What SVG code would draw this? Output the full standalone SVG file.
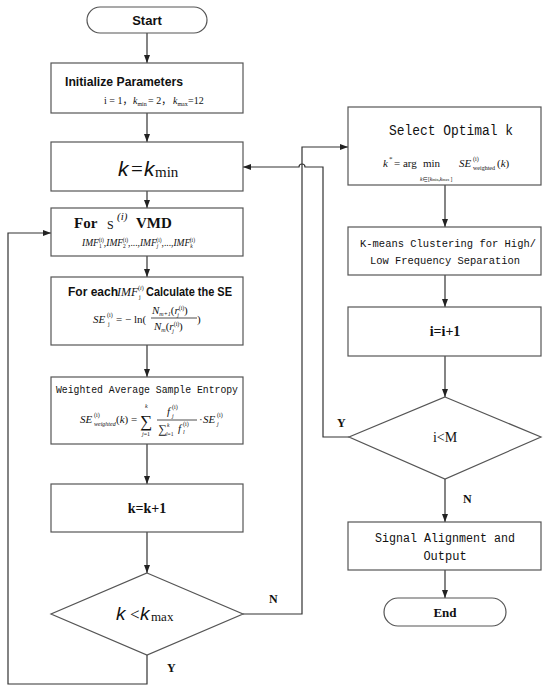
<svg xmlns="http://www.w3.org/2000/svg" width="550" height="691" viewBox="0 0 550 691">
<style>
.box{fill:#fff;stroke:#555;stroke-width:1.2}
.ln{fill:none;stroke:#333;stroke-width:1.2}
.sb{font-family:"Liberation Sans",Arial,sans-serif;font-weight:bold;fill:#111}
.rb{font-family:"Liberation Serif","Times New Roman",serif;font-weight:bold;fill:#111}
.r{font-family:"Liberation Serif","Times New Roman","Noto Sans CJK SC",serif;fill:#111}
.ri{font-family:"Liberation Serif","Times New Roman",serif;font-style:italic;fill:#111}
.mo{font-family:"Liberation Mono","Courier New",monospace;fill:#111}
.si{font-family:"Liberation Sans",Arial,sans-serif;font-style:italic;fill:#111}
</style>
<defs>
<marker id="ah" viewBox="0 0 8 8" refX="8" refY="4" markerWidth="8" markerHeight="8" markerUnits="userSpaceOnUse" orient="auto">
<path d="M0,1 L8,4 L0,7 Z" fill="#222"/>
</marker>
</defs>

<g id="connectors">
<path class="ln" d="M147 33 V63" marker-end="url(#ah)"/>
<path class="ln" d="M147 113 V142" marker-end="url(#ah)"/>
<path class="ln" d="M147 191 V208" marker-end="url(#ah)"/>
<path class="ln" d="M147 256 V277" marker-end="url(#ah)"/>
<path class="ln" d="M147 345 V377" marker-end="url(#ah)"/>
<path class="ln" d="M147 444 V484" marker-end="url(#ah)"/>
<path class="ln" d="M147 532 V573" marker-end="url(#ah)"/>
<path class="ln" d="M147 655 V684 H8 V233 H51" marker-end="url(#ah)"/>
<path class="ln" d="M243 614 H302 V147 H348" marker-end="url(#ah)"/>
<path class="ln" d="M445 185 V227" marker-end="url(#ah)"/>
<path class="ln" d="M445 275 V307" marker-end="url(#ah)"/>
<path class="ln" d="M445 356 V397" marker-end="url(#ah)"/>
<path class="ln" d="M349 437 H323 V167 H305 A3 3 0 0 0 299 167 H243" marker-end="url(#ah)"/>
<path class="ln" d="M445 479 V522" marker-end="url(#ah)"/>
<path class="ln" d="M445 570 V598" marker-end="url(#ah)"/>
<text class="rb" x="269" y="603" font-size="12">N</text>
<text class="rb" x="167" y="672" font-size="12">Y</text>
<text class="rb" x="337" y="427" font-size="12">Y</text>
<text class="rb" x="463" y="503" font-size="12">N</text>
</g>

<g id="start">
<rect class="box" x="87" y="7" width="120" height="26" rx="13"/>
<text class="sb" x="147" y="25" font-size="13" text-anchor="middle">Start</text>
</g>

<g id="init">
<rect class="box" x="51" y="63" width="192" height="50"/>
<text class="sb" x="65" y="86" font-size="12.5" textLength="118" lengthAdjust="spacingAndGlyphs">Initialize Parameters</text>
<text class="r" x="104" y="104" font-size="10">i = 1，<tspan class="ri" x="133">k</tspan><tspan font-size="6" dy="2">min</tspan><tspan dy="-2" x="148">= 2，</tspan><tspan class="ri" x="173">k</tspan><tspan font-size="6" dy="2">max</tspan><tspan dy="-2" x="188">=12</tspan></text>
</g>

<g id="kmin">
<rect class="box" x="51" y="142" width="192" height="49"/>
<text class="si" x="118" y="176" font-size="21">k</text>
<text class="r" x="131" y="176" font-size="21">=</text>
<text class="si" x="144" y="176" font-size="21">k</text>
<text class="r" x="155" y="177" font-size="15">min</text>
</g>

<g id="vmd">
<rect class="box" x="51" y="208" width="192" height="48"/>
<text class="rb" x="74" y="228" font-size="15">For</text>
<text class="r" x="107" y="229" font-size="12">S</text>
<text class="ri" x="117" y="220" font-size="11">(<tspan>i</tspan>)</text>
<text class="rb" x="136" y="228" font-size="15">VMD</text>
<text class="ri" x="82" y="246" font-size="9.5">IMF<tspan font-size="5.5" dy="2" font-style="normal">1</tspan><tspan font-size="5.5" dx="-3" dy="-6" font-style="normal">(i)</tspan><tspan dy="4">,</tspan>IMF<tspan font-size="5.5" dy="2" font-style="normal">2</tspan><tspan font-size="5.5" dx="-3" dy="-6" font-style="normal">(i)</tspan><tspan dy="4" font-style="normal">,...,</tspan>IMF<tspan font-size="5.5" dy="2">j</tspan><tspan font-size="5.5" dx="-2" dy="-6" font-style="normal">(i)</tspan><tspan dy="4" font-style="normal">,...,</tspan>IMF<tspan font-size="5.5" dy="2">k</tspan><tspan font-size="5.5" dx="-3" dy="-6" font-style="normal">(i)</tspan></text>
</g>

<g id="se">
<rect class="box" x="51" y="277" width="192" height="68"/>
<text class="sb" x="68" y="296" font-size="12">For each</text>
<text class="ri" x="117" y="296" font-size="12">IMF</text>
<text class="r" x="138" y="290" font-size="6">(<tspan font-style="italic">i</tspan>)</text>
<text class="r" x="139" y="299" font-size="6">j</text>
<text class="sb" x="146" y="296" font-size="12" textLength="86" lengthAdjust="spacingAndGlyphs">Calculate the SE</text>
<text class="ri" x="93" y="323" font-size="11">SE</text>
<text class="r" x="107" y="317" font-size="6">(i)</text>
<text class="r" x="108" y="326" font-size="6">j</text>
<text class="r" x="116" y="323" font-size="11">= − ln(</text>
<text class="ri" x="152" y="314" font-size="11">N<tspan font-size="6" dy="2">m+1</tspan><tspan dy="-2" font-style="normal">(</tspan>r<tspan font-size="6" dy="-4" font-style="normal">(i)</tspan><tspan font-size="6" dx="-7" dy="7">j</tspan><tspan dy="-3" dx="5" font-style="normal">)</tspan></text>
<line x1="151" y1="318" x2="197" y2="318" stroke="#222" stroke-width="0.8"/>
<text class="ri" x="154" y="330" font-size="11">N<tspan font-size="6" dy="2">m</tspan><tspan dy="-2" font-style="normal">(</tspan>r<tspan font-size="6" dy="-4" font-style="normal">(i)</tspan><tspan font-size="6" dx="-7" dy="7">j</tspan><tspan dy="-3" dx="5" font-style="normal">)</tspan></text>
<text class="r" x="197" y="323" font-size="11">)</text>
</g>

<g id="weighted">
<rect class="box" x="51" y="377" width="192" height="67"/>
<text class="mo" x="56" y="393" font-size="11" textLength="182" lengthAdjust="spacingAndGlyphs">Weighted Average Sample Entropy</text>
<text class="ri" x="80" y="423" font-size="11">SE</text>
<text class="r" x="94" y="417" font-size="6">(i)</text>
<text class="ri" x="94" y="426" font-size="6">weighted</text>
<text class="r" x="116" y="423" font-size="11">(<tspan font-style="italic">k</tspan>) =</text>
<text class="r" x="140" y="427" font-size="17">∑</text>
<text class="ri" x="145" y="408" font-size="6">k</text>
<text class="r" x="142" y="436" font-size="6"><tspan font-style="italic">j</tspan>=1</text>
<text class="ri" x="167" y="415" font-size="11">f</text>
<text class="r" x="172" y="409" font-size="6">(i)</text>
<text class="ri" x="172" y="418" font-size="6">j</text>
<line x1="157" y1="420" x2="197" y2="420" stroke="#222" stroke-width="0.8"/>
<text class="r" x="158" y="433" font-size="12">∑</text>
<text class="r" x="166" y="436" font-size="5.5"><tspan font-style="italic">l</tspan>=1</text>
<text class="ri" x="167" y="427" font-size="5.5">k</text>
<text class="ri" x="178" y="432" font-size="11">f</text>
<text class="r" x="183" y="426" font-size="6">(i)</text>
<text class="ri" x="183" y="434" font-size="6">l</text>
<text class="r" x="199" y="423" font-size="11">·</text>
<text class="ri" x="203" y="423" font-size="11">SE</text>
<text class="r" x="217" y="417" font-size="6">(i)</text>
<text class="ri" x="217" y="426" font-size="6">j</text>
</g>

<g id="kinc">
<rect class="box" x="51" y="484" width="192" height="48"/>
<text class="rb" x="147" y="513" font-size="14" text-anchor="middle">k=k+1</text>
</g>

<g id="kcheck">
<polygon class="box" points="147,573 243,614 147,655 51,614"/>
<text class="si" x="116" y="620" font-size="19">k</text>
<text class="r" x="130" y="620" font-size="17">&lt;</text>
<text class="si" x="140" y="620" font-size="19">k</text>
<text class="r" x="151" y="621" font-size="13">max</text>
</g>

<g id="select">
<rect class="box" x="348" y="107" width="193" height="78"/>
<text class="mo" x="389" y="135" font-size="14" textLength="124" lengthAdjust="spacingAndGlyphs">Select Optimal k</text>
<text class="ri" x="383" y="167" font-size="11">k</text>
<text class="r" x="389" y="161" font-size="7">*</text>
<text class="r" x="394" y="167" font-size="11">= arg</text>
<text class="r" x="423" y="167" font-size="11">min</text>
<text class="r" x="420" y="181" font-size="5.5"><tspan font-style="italic">k</tspan>∈[<tspan font-style="italic">k</tspan><tspan font-size="4">min</tspan>,<tspan font-style="italic">k</tspan><tspan font-size="4">max</tspan> ]</text>
<text class="ri" x="459" y="167" font-size="11">SE</text>
<text class="r" x="473" y="161" font-size="6">(i)</text>
<text class="r" x="473" y="170" font-size="6">weighted</text>
<text class="r" x="497" y="167" font-size="11">(<tspan font-style="italic">k</tspan>)</text>
</g>

<g id="kmeans">
<rect class="box" x="348" y="227" width="193" height="48"/>
<text class="mo" x="360" y="247" font-size="10.5" textLength="176" lengthAdjust="spacingAndGlyphs">K-means Clustering for High/</text>
<text class="mo" x="370" y="264" font-size="10.5" textLength="150" lengthAdjust="spacingAndGlyphs">Low Frequency Separation</text>
</g>

<g id="iinc">
<rect class="box" x="348" y="307" width="193" height="49"/>
<text class="rb" x="445" y="336" font-size="14" text-anchor="middle">i=i+1</text>
</g>

<g id="icheck">
<polygon class="box" points="445,397 541,437 445,479 349,437"/>
<text class="r" x="445" y="442" font-size="14" text-anchor="middle">i&lt;M</text>
</g>

<g id="signal">
<rect class="box" x="348" y="522" width="193" height="48"/>
<text class="mo" x="375" y="542" font-size="12" textLength="140" lengthAdjust="spacingAndGlyphs">Signal Alignment and</text>
<text class="mo" x="445" y="560" font-size="12" text-anchor="middle">Output</text>
</g>

<g id="end">
<rect class="box" x="384" y="598" width="122" height="28" rx="14"/>
<text class="rb" x="445" y="617" font-size="13" text-anchor="middle">End</text>
</g>
</svg>
